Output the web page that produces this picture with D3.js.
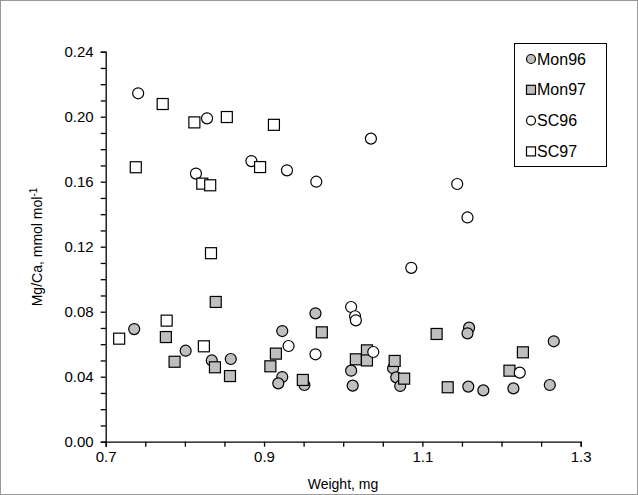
<!DOCTYPE html>
<html><head><meta charset="utf-8">
<script src="https://cdn.jsdelivr.net/npm/d3@7"></script>
<style>body{margin:0;background:#fff}text{font-family:"Liberation Sans",Arial,sans-serif}</style>
</head><body><svg id="c" width="638" height="495"></svg>
<script>
const mon96W = [0.736,0.801,0.834,0.858,0.923,0.923,0.918,0.951,0.965,1.010,1.012,1.159,1.157,1.063,1.067,1.072,1.158,1.177,1.215,1.261,1.266]
const mon96V = [0.0693,0.056,0.050,0.0509,0.0681,0.0398,0.0359,0.0349,0.079,0.0437,0.0345,0.0702,0.0667,0.0452,0.0396,0.0343,0.0339,0.0316,0.0328,0.0349,0.0618]
const mon97W = [0.776,0.787,0.839,0.838,0.857,0.915,0.908,0.949,0.973,1.016,1.030,1.030,1.118,1.065,1.077,1.132,1.210,1.227]
const mon97V = [0.0644,0.0492,0.086,0.0458,0.0404,0.0542,0.0464,0.038,0.0673,0.0507,0.0562,0.050,0.0663,0.0497,0.0388,0.0335,0.0437,0.055]
const sc96W = [0.741,0.828,0.884,0.814,0.929,0.966,1.035,1.144,1.157,1.086,0.931,0.965,1.010,1.015,1.016,1.038,1.223]
const sc96V = [0.2144,0.199,0.1727,0.165,0.167,0.160,0.1865,0.1586,0.138,0.107,0.0589,0.0538,0.0829,0.0772,0.0747,0.0552,0.0425]
const sc97W = [0.772,0.812,0.853,0.9125,0.738,0.822,0.832,0.833,0.895,0.717,0.777,0.824]
const sc97V = [0.2078,0.1965,0.1998,0.195,0.1689,0.1588,0.1578,0.116,0.169,0.0634,0.0745,0.0587]
const series = [
  {name:"Mon96", w:mon96W, v:mon96V, shape:"circle", fill:"#bfbfbf"},
  {name:"Mon97", w:mon97W, v:mon97V, shape:"square", fill:"#bfbfbf"},
  {name:"SC96", w:sc96W, v:sc96V, shape:"circle", fill:"#fff"},
  {name:"SC97", w:sc97W, v:sc97V, shape:"square", fill:"#fff"}
]
const xTicks = [0.7,0.9,1.1,1.3]
const yTicks = [0,0.04,0.08,0.12,0.16,0.2,0.24]

const svg = d3.select("#c")
svg.append("rect").attr("x",0.5).attr("y",0.5).attr("width",637).attr("height",494)
  .attr("fill","none").attr("stroke","#999")

const x = d3.scaleLinear().domain([0.7,1.3]).range([105.7,580.7])
const y = d3.scaleLinear().domain([0,0.24]).range([441.7,51.7])

const xa = svg.append("g").attr("transform","translate(0,441.7)")
xa.call(d3.axisBottom(x).tickValues(d3.range(0.7,1.3001,0.05)).tickSize(5).tickFormat(""))
xa.call(g=>g.selectAll(".tick text").remove())
xa.selectAll(".tick").filter(d=>xTicks.some(t=>Math.abs(t-d)<1e-6)).append("text")
  .attr("y",20).attr("text-anchor","middle").attr("fill","#000").attr("font-size",15).text(d=>d3.format(".1f")(d))
const ya = svg.append("g").attr("transform","translate(105.7,0)")
ya.call(d3.axisLeft(y).tickValues(d3.range(0,0.2401,0.01)).tickSize(5).tickFormat(""))
ya.selectAll(".tick").filter(d=>yTicks.some(t=>Math.abs(t-d)<1e-6)).append("text")
  .attr("x",-12).attr("dy","0.35em").attr("text-anchor","end").attr("fill","#000").attr("font-size",15).text(d=>d3.format(".2f")(d))
svg.selectAll(".domain,.tick line").attr("stroke","#000").attr("stroke-width",1.3)

svg.append("text").attr("x",343).attr("y",489).attr("text-anchor","middle").attr("font-size",14).text("Weight, mg")
const yl = svg.append("text").attr("transform","translate(42,247) rotate(-90)").attr("text-anchor","middle").attr("font-size",14)
yl.append("tspan").text("Mg/Ca, mmol mol")
yl.append("tspan").attr("font-size",10).attr("dy",-5).text("-1")

function mark(g, shape, fill, cx, cy, r){
  if(shape==="circle") g.append("circle").attr("cx",cx).attr("cy",cy).attr("r",r)
    .attr("fill",fill).attr("stroke","#000").attr("stroke-width",1.2)
  else g.append("rect").attr("x",cx-r).attr("y",cy-r).attr("width",2*r).attr("height",2*r)
    .attr("fill",fill).attr("stroke","#000").attr("stroke-width",1.2)
}
series.forEach(s=>{
  const g = svg.append("g")
  s.w.forEach((w,i)=>mark(g,s.shape,s.fill,x(w),y(s.v[i]),5.5))
})

const lg = svg.append("g")
lg.append("rect").attr("x",514.5).attr("y",43.5).attr("width",92).attr("height",123)
  .attr("fill","#fff").attr("stroke","#000")
series.forEach((s,i)=>{
  const cy = 59+i*30.8
  mark(lg,s.shape,s.fill,531,cy,4.5)
  lg.append("text").attr("x",537).attr("y",cy).attr("dy","0.35em").attr("font-size",16).text(s.name)
})
</script></body></html>
